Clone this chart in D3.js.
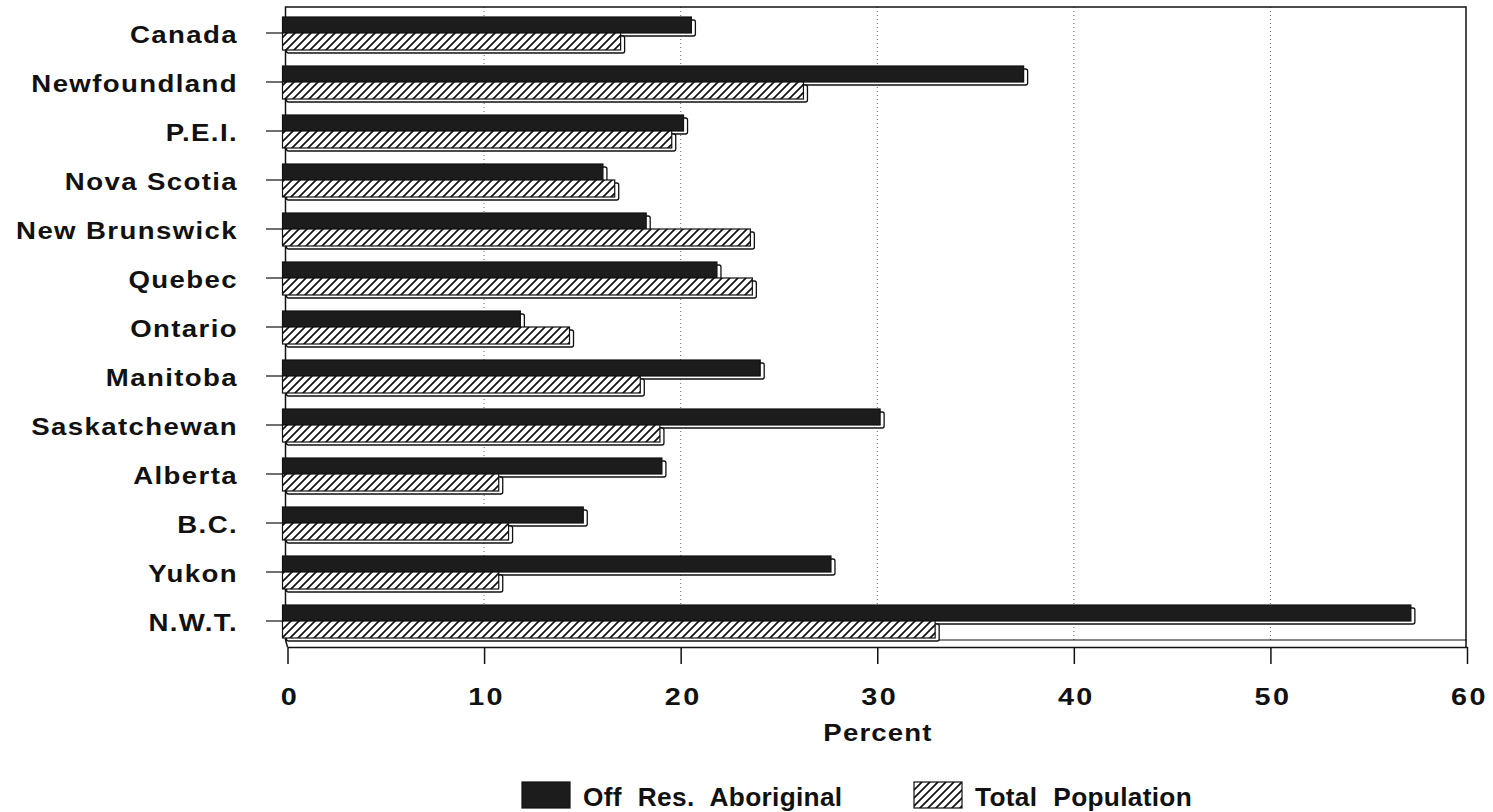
<!DOCTYPE html>
<html><head><meta charset="utf-8">
<script src="https://cdn.jsdelivr.net/npm/d3@7"></script>
<style>
html,body{margin:0;padding:0;background:#fff;}
svg{display:block;}
</style></head>
<body>
<svg id="chart" width="1493" height="812"></svg>
<script>
const categories = ["Canada","Newfoundland","P.E.I.","Nova Scotia","New Brunswick","Quebec","Ontario","Manitoba","Saskatchewan","Alberta","B.C.","Yukon","N.W.T."];
const offResAboriginal = [20.8, 37.7, 20.4, 16.3, 18.5, 22.1, 12.1, 24.3, 30.4, 19.3, 15.3, 27.9, 57.4];
const totalPopulation = [17.2, 26.5, 19.8, 16.9, 23.8, 23.9, 14.6, 18.2, 19.2, 11.0, 11.5, 11.0, 33.2];
const xTicks = [0, 10, 20, 30, 40, 50, 60];
const seriesNames = ["Off Res. Aboriginal", "Total Population"];

(function(){
const svg = d3.select("#chart");
const FONT = "'Liberation Sans', Arial, Helvetica, sans-serif";
const x = d3.scaleLinear().domain([0, 60]).range([287.5, 1467]);
const y = d3.scalePoint().domain(categories).range([33, 621]);
const wallTop = 7, floorY = 640, axisY = 647;

const defs = svg.append("defs");
const pat = defs.append("pattern").attr("id","hatch").attr("patternUnits","userSpaceOnUse")
  .attr("width",8).attr("height",8);
pat.append("rect").attr("width",8).attr("height",8).attr("fill","#fff");
pat.append("path").attr("d","M0,8 L8,0 M-2,2 L2,-2 M6,10 L10,6")
  .attr("stroke","#111").attr("stroke-width",1.7);

// gridlines
svg.append("g").selectAll("line").data(xTicks.filter(d => d > 0 && d < 60)).join("line")
  .attr("x1", d => x(d)).attr("x2", d => x(d)).attr("y1", wallTop).attr("y2", floorY)
  .attr("stroke","#666").attr("stroke-width",1).attr("stroke-dasharray","1,3");

// frame: back wall top, left wall, right side, floor
const frame = svg.append("g").attr("fill","none").attr("stroke","#111").attr("stroke-width",1.5);
frame.append("path").attr("d", `M${x(0)-2},${floorY} L${x(0)-2},${wallTop} L${x(60)-1},${wallTop} L${x(60)-1},${axisY}`);
frame.append("line").attr("x1", x(0)-2).attr("x2", x(60)).attr("y1", floorY).attr("y2", floorY).attr("stroke-width",1);
frame.append("line").attr("x1", x(0)-2).attr("x2", x(0)).attr("y1", floorY).attr("y2", axisY);

// left ticks
svg.append("g").selectAll("line").data(categories).join("line")
  .attr("x1", 266).attr("x2", x(0)-2).attr("y1", d => y(d)).attr("y2", d => y(d))
  .attr("stroke","#111").attr("stroke-width",1.2);

// bars
const depth = 4, dx = -5;
const series = [
  {name: seriesNames[0], values: offResAboriginal, fill: "#1c1c1c", y0: -16, h: 16},
  {name: seriesNames[1], values: totalPopulation, fill: "url(#hatch)", y0: 0, h: 17}
];
const barG = svg.append("g");
series.forEach(s => {
  const g = barG.append("g");
  categories.forEach((c, i) => {
    const v = s.values[i];
    const x0 = x(0) + dx, x1 = x(v) + dx;
    const yy = y(c) + s.y0;
    g.append("rect").attr("x", x0 + depth).attr("y", yy + 3).attr("width", x1 - x0)
      .attr("height", s.h).attr("rx", 2).attr("fill","#fff").attr("stroke","#111").attr("stroke-width",1.3);
    g.append("rect").attr("x", x0).attr("y", yy).attr("width", x1 - x0).attr("height", s.h)
      .attr("fill", s.fill).attr("stroke","#111").attr("stroke-width",1.2);
  });
});

// x axis
const xAxis = d3.axisBottom(x).tickValues(xTicks).tickSizeInner(17).tickSizeOuter(0).tickPadding(24);
const ax = svg.append("g").attr("transform", `translate(0,${axisY})`).call(xAxis);
ax.select(".domain").attr("stroke","#111").attr("stroke-width",1.5);
ax.selectAll(".tick line").attr("stroke","#111").attr("stroke-width",1.5);
ax.selectAll(".tick text").attr("font-family", FONT).attr("font-size", 24).attr("font-weight","bold")
  .attr("fill","#111").attr("letter-spacing", 2).attr("transform","translate(2,0) scale(1.2,1)");

// category labels
svg.append("g").selectAll("g").data(categories).join("g")
  .attr("transform", d => `translate(238,${y(d)+2}) scale(1.15,1)`)
  .append("text").attr("text-anchor","end").attr("dominant-baseline","central")
  .attr("font-family", FONT).attr("font-size", 24).attr("font-weight","bold")
  .attr("letter-spacing", 1.2).attr("fill","#111").text(d => d);

// axis title
svg.append("g").attr("transform","translate(878,733) scale(1.15,1)")
  .append("text").attr("text-anchor","middle").attr("dominant-baseline","central")
  .attr("font-family", FONT).attr("font-size", 24).attr("font-weight","bold")
  .attr("letter-spacing", 1).attr("fill","#111").text("Percent");

// legend
const legend = [
  {name: seriesNames[0], fill: "#1c1c1c", sx: 522, tx: 583},
  {name: seriesNames[1], fill: "url(#hatch)", sx: 914, tx: 975}
];
const lg = svg.append("g").selectAll("g").data(legend).join("g");
lg.append("rect").attr("x", d => d.sx).attr("y", 782).attr("width", 48).attr("height", 26)
  .attr("fill", d => d.fill).attr("stroke","#111").attr("stroke-width",1.2);
lg.append("g").attr("transform", d => `translate(${d.tx},806) scale(1.05,1)`)
  .append("text").attr("font-family", FONT).attr("font-size", 25).attr("font-weight","bold")
  .attr("letter-spacing", 0.3).attr("word-spacing", 8).attr("fill","#111").text(d => d.name);
})();
</script>
</body></html>
